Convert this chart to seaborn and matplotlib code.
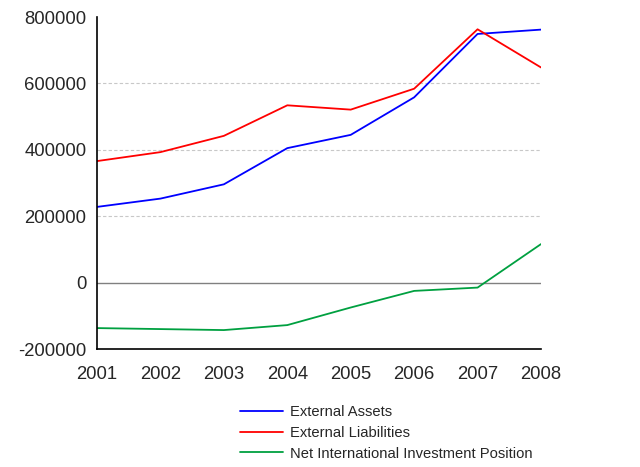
import seaborn as sns
import matplotlib.pyplot as plt
import pandas as pd

# values
years = [2001, 2002, 2003, 2004, 2005, 2006, 2007, 2008]
external_assets = [228000, 253000, 296000, 405000, 445000, 558000, 749000, 762000]
external_liabilities = [366000, 393000, 442000, 534000, 521000, 584000, 763000, 648000]
net_position = [-137000, -140000, -143000, -128000, -75000, -25000, -15000, 116000]

series_names = ["External Assets", "External Liabilities", "Net International Investment Position"]
palette = ["#0000ff", "#ff0000", "#00a040"]

df = pd.DataFrame({
    "year": years * 3,
    "value": external_assets + external_liabilities + net_position,
    "series": [series_names[0]] * 8 + [series_names[1]] * 8 + [series_names[2]] * 8,
})

sns.set_style("white")
plt.rcParams['font.family'] = ['Liberation Sans', 'DejaVu Sans']

fig = plt.figure(figsize=(6.4, 4.67), dpi=100)
ax = fig.add_axes([97 / 640, 1 - 349 / 467, 444 / 640, 332 / 467])

ax.axhline(0, color="#808080", linewidth=1.0, zorder=1)
for g in [200000, 400000, 600000]:
    ax.axhline(g, color="#c8c8c8", linewidth=0.8, linestyle=(0, (3, 2)), zorder=0)

sns.lineplot(data=df, x="year", y="value", hue="series", palette=palette,
             linewidth=1.3, ax=ax, legend=True)

ax.set_xlim(2001, 2008)
ax.set_ylim(-200000, 800000)
ax.set_xticks(years)
ax.set_yticks([-200000, 0, 200000, 400000, 600000, 800000])
ax.set_yticklabels(["-200000", "0", "200000", "400000", "600000", "800000"])
ax.set_xlabel("")
ax.set_ylabel("")
ax.tick_params(axis="both", labelsize=13.3, direction="out", length=4, width=1, color="black")
ax.tick_params(axis="x", pad=8)
sns.despine(ax=ax)
for s in ["left", "bottom"]:
    ax.spines[s].set_color("black")
    ax.spines[s].set_linewidth(1.2)

handles, labels = ax.get_legend_handles_labels()
ax.legend(handles, labels, loc="upper left", bbox_to_anchor=(233 / 640, 1 - 398 / 467),
          bbox_transform=fig.transFigure, frameon=False, fontsize=10.6,
          handlelength=2.9, handletextpad=0.5, labelspacing=0.45, borderpad=0)

fig.savefig("out.png", dpi=100)
